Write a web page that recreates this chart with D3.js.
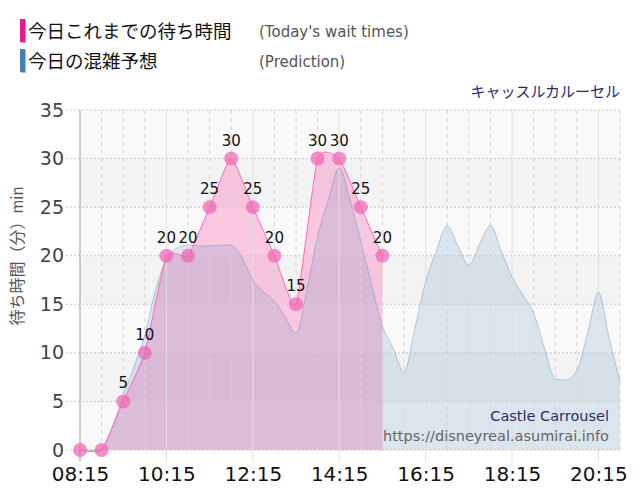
<!DOCTYPE html>
<html><head><meta charset="utf-8">
<script src="https://cdn.jsdelivr.net/npm/d3@7"></script>
<style>body{margin:0;background:#fff}</style>
</head><body>
<svg id="c" width="640" height="500"></svg>
<script>
// ---- data ----
const actualTimes = ["08:15","08:45","09:15","09:45","10:15","10:45","11:15","11:45","12:15","12:45","13:15","13:45","14:15","14:45","15:15"];
const actualValues = [0,0,5,10,20,20,25,30,25,20,15,30,30,25,20];

const predTimes = ["08:15","08:30","08:45","09:00","09:15","09:30","09:45","10:00","10:15","10:30","10:45","11:00","11:15","11:30","11:45","12:00","12:15","12:30","12:45","13:00","13:15","13:30","13:45","14:00","14:15","14:30","14:45","15:00","15:15","15:30","15:45","16:00","16:15","16:30","16:45","17:00","17:15","17:30","17:45","18:00","18:15","18:30","18:45","19:00","19:15","19:30","19:45","20:00","20:15","20:30","20:45"];
const predValues = [0,0,0,2.4,5.6,8.6,11.8,16.5,19.6,20.8,21.1,21.0,21.0,21.1,21.1,19.8,17.5,16.3,15.3,13.7,12.0,16.5,22.0,25.8,29.0,25.8,21.5,17.0,12.8,10.5,8.0,12.5,17.3,20.5,23.1,21.0,19.0,21.2,23.1,20.5,17.8,16.0,14.1,10.5,7.3,7.2,8.2,12.0,16.2,11.5,7.0];

const xTickLabels = ["08:15","10:15","12:15","14:15","16:15","18:15","20:15"];
const yTicks = [0,5,10,15,20,25,30,35];
const domainStart = "08:15", domainEnd = "20:45";

const legendJa = ["今日これまでの待ち時間","今日の混雑予想"];
const legendEn = ["(Today's wait times)","(Prediction)"];
const titleText = "キャッスルカルーセル";
const yLabelText = "待ち時間（分）";
const yLabelUnit = "min";
const watermark1 = "Castle Carrousel";
const watermark2 = "https://disneyreal.asumirai.info";

// ---- helpers ----
const toMin = s => { const [h,m] = s.split(":").map(Number); return h*60+m; };
const svg = d3.select("#c");
const L = 80, R = 620, T = 110, B = 450;
const x = d3.scaleLinear().domain([toMin(domainStart), toMin(domainEnd)]).range([L, R]);
const y = d3.scaleLinear().domain([0, 35]).range([B, T]);
const JA = "'Noto Sans CJK JP','Noto Sans',sans-serif";
const LAT = "'DejaVu Sans',Verdana,sans-serif";

// background bands
const bands = d3.range(0, 35, 5);
svg.append("g").selectAll("rect").data(bands).join("rect")
  .attr("x", L).attr("width", R - L)
  .attr("y", d => y(d + 5)).attr("height", d => y(d) - y(d + 5))
  .attr("fill", (d, i) => i % 2 === 0 ? "#f9f9f9" : "#f3f3f3");

const actual = actualTimes.map((t, i) => ({t: toMin(t), v: actualValues[i]}));
const pred = predTimes.map((t, i) => ({t: toMin(t), v: predValues[i]}));

// pink area (actual)
const pinkCurve = d3.curveCardinal.tension(0.5);
svg.append("path").datum(actual)
  .attr("d", d3.area().x(d => x(d.t)).y0(y(0)).y1(d => y(d.v)).curve(pinkCurve))
  .attr("fill", "rgba(255,105,180,0.34)");

// blue area (prediction) on top
svg.append("path").datum(pred)
  .attr("d", d3.area().x(d => x(d.t)).y0(y(0)).y1(d => y(d.v)).curve(d3.curveMonotoneX))
  .attr("fill", "rgba(70,130,180,0.17)");

// grid lines
const minor = d3.range(toMin(domainStart), toMin(domainEnd) + 1, 30);
const majors = xTickLabels.map(toMin);
svg.append("g").selectAll("line").data(minor.filter(m => !majors.includes(m))).join("line")
  .attr("x1", d => x(d)).attr("x2", d => x(d)).attr("y1", T).attr("y2", B)
  .attr("stroke", "#d6d6d6").attr("stroke-dasharray", "4,4").attr("stroke-width", 1);
svg.append("g").selectAll("line").data(majors).join("line")
  .attr("x1", d => x(d)).attr("x2", d => x(d)).attr("y1", T).attr("y2", B + 12)
  .attr("stroke", "#e0e0e0").attr("stroke-width", 1);
svg.append("g").selectAll("line").data(yTicks).join("line")
  .attr("x1", L - 14).attr("x2", R).attr("y1", d => y(d)).attr("y2", d => y(d))
  .attr("stroke", "#c8c8c8").attr("stroke-dasharray", "2,2").attr("stroke-width", 1);

// lines
svg.append("path").datum(pred)
  .attr("d", d3.line().x(d => x(d.t)).y(d => y(d.v)).curve(d3.curveMonotoneX))
  .attr("fill", "none").attr("stroke", "rgba(70,130,180,0.35)").attr("stroke-width", 1);
svg.append("path").datum(actual)
  .attr("d", d3.line().x(d => x(d.t)).y(d => y(d.v)).curve(pinkCurve))
  .attr("fill", "none").attr("stroke", "#ff69b4").attr("stroke-width", 1);

// y axis
const yAxis = svg.append("g").attr("transform", `translate(${L},0)`)
  .call(d3.axisLeft(y).tickValues(yTicks).tickSize(0).tickPadding(16));
yAxis.select(".domain").remove();
yAxis.selectAll("text").attr("font-family", LAT).attr("font-size", 19).attr("fill", "#444");
svg.append("line").attr("x1", L).attr("x2", L).attr("y1", T).attr("y2", B + 12)
  .attr("stroke", "#aaa").attr("stroke-width", 1);

// x axis
const xAxis = svg.append("g").attr("transform", `translate(0,${B})`)
  .call(d3.axisBottom(x).tickValues(majors).tickFormat((d, i) => xTickLabels[i]).tickSize(0).tickPadding(17));
xAxis.select(".domain").remove();
xAxis.selectAll("text").attr("font-family", LAT).attr("font-size", 20).attr("fill", "#111");

// points & labels
svg.append("g").selectAll("circle").data(actual).join("circle")
  .attr("cx", d => x(d.t)).attr("cy", d => y(d.v)).attr("r", 7)
  .attr("fill", "#f063b4").attr("fill-opacity", 0.7);
svg.append("g").selectAll("text").data(actual.filter(d => d.v > 0)).join("text")
  .attr("x", d => x(d.t)).attr("y", d => y(d.v) - 13)
  .attr("text-anchor", "middle").attr("font-family", LAT).attr("font-size", 15).attr("fill", "#111")
  .text(d => d.v);

// y label
svg.append("text").attr("transform", "translate(23,256) rotate(-90)")
  .attr("text-anchor", "middle").attr("font-family", JA).attr("font-size", 16).attr("fill", "#555")
  .text(yLabelText).append("tspan").attr("font-size", 15).text(yLabelUnit);

// legend
const legColors = ["#f0168c", "#4682b4"];
legendJa.forEach((t, i) => {
  svg.append("rect").attr("x", 21).attr("y", 20 + i * 30).attr("width", 5).attr("height", 23).attr("fill", "#bbb");
  svg.append("rect").attr("x", 20).attr("y", 19 + i * 30).attr("width", 5).attr("height", 23).attr("fill", legColors[i]);
  svg.append("text").attr("x", 28).attr("y", 38 + i * 30).attr("font-family", JA).attr("font-size", 18.5).attr("fill", "#111").text(t);
  svg.append("text").attr("x", 259).attr("y", 37 + i * 30).attr("font-family", LAT).attr("font-size", 15).attr("fill", "#555").text(legendEn[i]);
});

// title
svg.append("text").attr("x", 620).attr("y", 97).attr("text-anchor", "end")
  .attr("font-family", JA).attr("font-size", 15).attr("fill", "#2b2b6b").text(titleText);

// watermark
svg.append("text").attr("x", 609).attr("y", 421).attr("text-anchor", "end")
  .attr("font-family", LAT).attr("font-size", 14.5).attr("fill", "#2b2b6b").text(watermark1);
svg.append("text").attr("x", 609).attr("y", 441).attr("text-anchor", "end")
  .attr("font-family", LAT).attr("font-size", 14.5).attr("fill", "#666").text(watermark2);
</script>
</body></html>
